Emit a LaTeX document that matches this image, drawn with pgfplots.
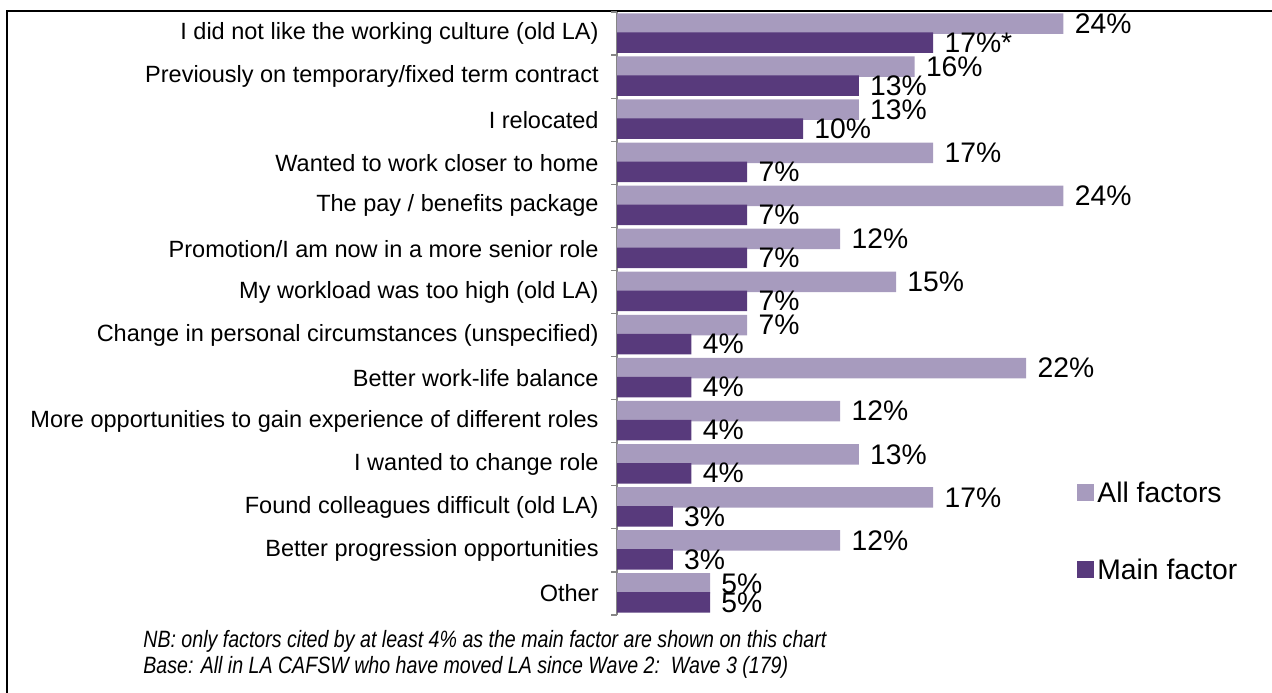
\documentclass[border=0pt]{standalone}
\usepackage{fontspec}
\setmainfont{Liberation Sans}
\newfontfamily\notefont[FakeStretch=0.83]{Liberation Sans}
\usepackage{pgfplots}
\pgfplotsset{compat=1.18}
\definecolor{allf}{HTML}{A79BBE}
\definecolor{mainf}{HTML}{583A7C}
\definecolor{axgray}{HTML}{868686}

\begin{document}
\begin{tikzpicture}
\useasboundingbox (0,0) rectangle (636bp,-346.5bp);
\draw[line width=1bp] (3.5bp,-346.5bp) -- (3.5bp,-5.25bp) -- (636bp,-5.25bp);
\begin{axis}[
  at={(308.5bp,-6bp)}, anchor=north west,
  scale only axis, width=279bp, height=301.5bp,
  xbar, bar width=10.25bp,
  xmin=0, xmax=30, ymin=-0.5, ymax=13.5, y dir=reverse,
  hide x axis, axis y line*=left,
  y axis line style={draw=axgray, line width=0.6bp},
  ytick={0,...,13},
  yticklabels={I did not like the working culture (old LA),
    Previously on temporary/fixed term contract,
    I relocated,
    Wanted to work closer to home,
    The pay / benefits package,
    Promotion/I am now in a more senior role,
    My workload was too high (old LA),
    Change in personal circumstances (unspecified),
    Better work-life balance,
    More opportunities to gain experience of different roles,
    I wanted to change role,
    Found colleagues difficult (old LA),
    Better progression opportunities,
    Other},
  major y tick style={draw=none}, major tick length=0pt,
  minor ytick={-0.5,0.5,...,13.5}, minor tick length=3bp, tick align=outside,
  minor y tick style={draw=axgray, line width=0.6bp},
  yticklabel style={font=\fontsize{11.8}{12}\selectfont, inner sep=0pt, xshift=-9bp},
  point meta=explicit symbolic,
  nodes near coords,
  every node near coord/.append style={anchor=west, inner sep=0pt, xshift=5.5bp,
    font=\fontsize{14.2}{14.2}\selectfont, text=black},
  clip=false,
  legend cell align=left,
  legend image code/.code={\fill[#1] (0bp,-4bp) rectangle (8.5bp,4.5bp);},
  legend style={at={(0.8244,0.139)}, anchor=west, draw=none, fill=none,
    inner sep=0pt, row sep=28.3bp, font=\fontsize{14.2}{14.2}\selectfont,
    nodes={inner sep=0pt, text height=10.2bp, text depth=0pt},
    /tikz/every odd column/.style={column sep=1.5bp}},
]
\addplot[fill=allf, draw=none, bar shift=5bp] coordinates {
  (24,0) [24\%] (16,1) [16\%] (13,2) [13\%] (17,3) [17\%] (24,4) [24\%]
  (12,5) [12\%] (15,6) [15\%] (7,7) [7\%] (22,8) [22\%] (12,9) [12\%]
  (13,10) [13\%] (17,11) [17\%] (12,12) [12\%] (5,13) [5\%]};
\addlegendentry{All factors}
\addplot[fill=mainf, draw=none, bar shift=-4.5bp] coordinates {
  (17,0) [17\%*] (13,1) [13\%] (10,2) [10\%] (7,3) [7\%] (7,4) [7\%]
  (7,5) [7\%] (7,6) [7\%] (4,7) [4\%] (4,8) [4\%] (4,9) [4\%]
  (4,10) [4\%] (3,11) [3\%] (3,12) [3\%] (5,13) [5\%]};
\addlegendentry{Main factor}
\end{axis}
\node[anchor=west, inner sep=0pt, font=\notefont\itshape\fontsize{11.85}{12}\selectfont]
  at (71.5bp,-320.5bp) {NB: only factors cited by at least 4\% as the main factor are shown on this chart};
\node[anchor=west, inner sep=0pt, font=\notefont\itshape\fontsize{11.85}{12}\selectfont]
  at (71.5bp,-333.5bp) {Base: All in LA CAFSW who have moved LA since Wave 2:\ \ Wave 3 (179)};
\end{tikzpicture}
\end{document}
